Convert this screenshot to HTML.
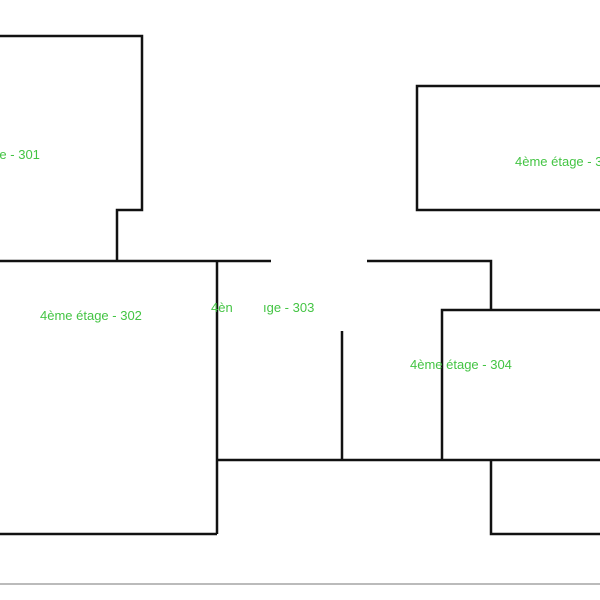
<!DOCTYPE html><html><head><style>body{margin:0;background:#fff}</style></head><body>
<svg width="600" height="600" xmlns="http://www.w3.org/2000/svg" style="display:block">
<g fill="none" stroke="#111" stroke-width="2.5">
<polyline points="0,36 142,36 142,210 117,210 117,261"/>
<line x1="0" y1="261" x2="271" y2="261"/>
<line x1="217" y1="261" x2="217" y2="534"/>
<line x1="0" y1="534" x2="217" y2="534"/>
<polyline points="600,86 417,86 417,210 600,210"/>
<polyline points="367,261 491,261 491,310"/>
<polyline points="600,310 442,310 442,460"/>
<line x1="217" y1="460" x2="600" y2="460"/>
<line x1="342" y1="331" x2="342" y2="460"/>
<polyline points="491,460 491,534 600,534"/>
</g>
<line x1="0" y1="584" x2="600" y2="584" stroke="#777" stroke-width="1"/>
<g font-family="Liberation Sans, sans-serif" font-size="13" fill="#44c444">
<text x="-62" y="159">4ème étage - 301</text>
<text x="40" y="320">4ème étage - 302</text>
<text x="211" y="312">4èn</text>
<text x="263" y="312">ıge - 303</text>
<text x="410" y="369">4ème étage - 304</text>
<text x="515" y="166">4ème étage - 305</text>
</g>
</svg>
</body></html>
